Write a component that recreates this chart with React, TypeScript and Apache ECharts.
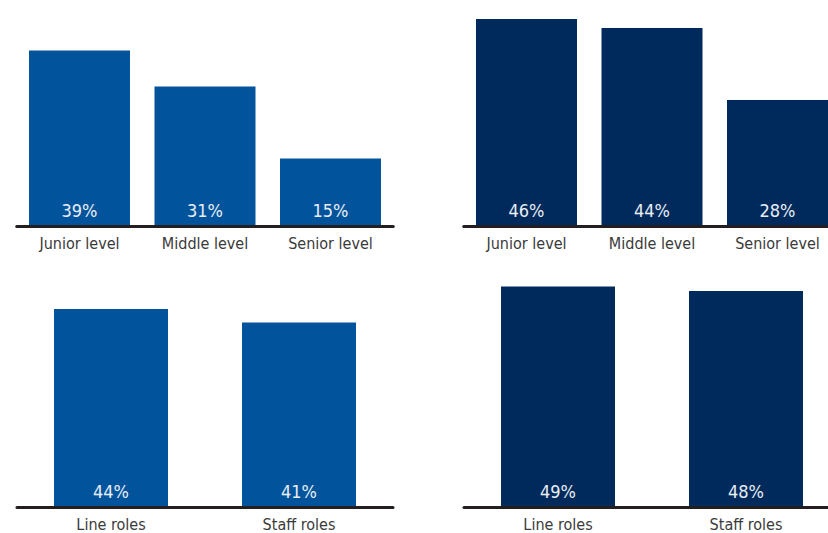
import React, { useEffect, useRef } from "react";
import * as echarts from "echarts";

const levelCategories = ["Junior level", "Middle level", "Senior level"];
const roleCategories = ["Line roles", "Staff roles"];
const currentLevelValues = [39, 31, 15];
const expectedLevelValues = [46, 44, 28];
const currentRoleValues = [44, 41];
const expectedRoleValues = [49, 48];

const LIGHT = "#01549c";
const DARK = "#012a5c";
const FONT = "'DejaVu Sans Condensed', 'DejaVu Sans', sans-serif";

export default function App() {
  const ref = useRef<HTMLDivElement>(null);
  useEffect(() => {
    if (!ref.current) return;
    const chart = echarts.init(ref.current, undefined, { renderer: "svg" });
    const grids = [
      { left: 16.75, top: 1, width: 376.5, height: 225 },
      { left: 463.75, top: 1, width: 376.5, height: 225 },
      { left: 17, top: 282, width: 376, height: 225 },
      { left: 464, top: 282, width: 376, height: 225 },
    ];
    const cats = [levelCategories, levelCategories, roleCategories, roleCategories];
    const vals = [currentLevelValues, expectedLevelValues, currentRoleValues, expectedRoleValues];
    const colors = [LIGHT, DARK, LIGHT, DARK];
    const widths = [101, 101, 114, 114];
    chart.setOption({
      animation: false,
      grid: grids.map((g) => ({ ...g, containLabel: false })),
      xAxis: cats.map((c, i) => ({
        type: "category",
        gridIndex: i,
        data: c,
        axisTick: { show: false },
        axisLine: { show: true, lineStyle: { color: "#231f20", width: 3 } },
        axisLabel: { color: "#3a3a3a", fontSize: 16, fontFamily: FONT, margin: 9 },
        z: 5,
      })),
      yAxis: cats.map((_, i) => ({
        type: "value",
        gridIndex: i,
        min: 0,
        max: 50,
        show: false,
        splitLine: { show: false },
      })),
      series: vals.map((v, i) => ({
        type: "bar",
        xAxisIndex: i,
        yAxisIndex: i,
        data: v,
        barWidth: widths[i],
        itemStyle: { color: colors[i] },
        label: {
          show: true,
          position: "insideBottom",
          distance: 7,
          formatter: "{c}%",
          color: "#e9eef5",
          fontSize: 18,
          fontFamily: FONT,
        },
      })),
    });
    return () => chart.dispose();
  }, []);
  return (
    <div
      ref={ref}
      style={{ position: "fixed", left: 0, top: 0, width: 860, height: 533, background: "#ffffff" }}
    />
  );
}
